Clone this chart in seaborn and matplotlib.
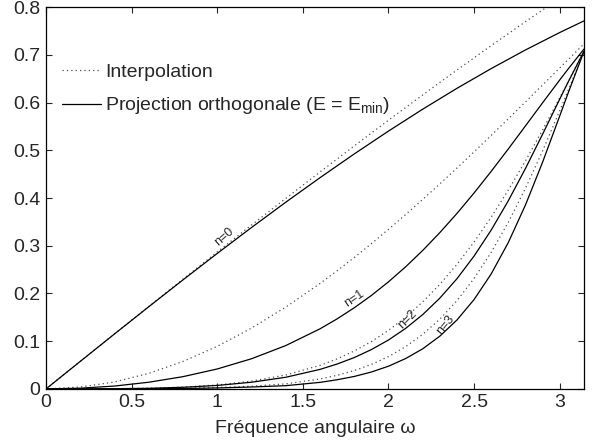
import matplotlib
matplotlib.use("Agg")
import matplotlib.pyplot as plt
import numpy as np
import seaborn as sns

# Values (error kernel vs. angular frequency)
omega = [0, 0.2, 0.4, 0.6, 0.8, 1.0, 1.2, 1.4, 1.6, 1.8, 2.0, 2.2, 2.4, 2.6, 2.8, 3.0, 3.1416]
omega_fine = [0, 0.2, 0.4, 0.6, 0.8, 1.0, 1.2, 1.4, 1.6, 1.7, 1.8, 1.9, 2.0, 2.1, 2.2,
              2.3, 2.4, 2.5, 2.6, 2.7, 2.8, 2.9, 3.0, 3.05, 3.1416]

proj_n0 = [0, 0.0577, 0.1152, 0.1722, 0.2285, 0.2839, 0.3382, 0.3912, 0.4426, 0.4924,
           0.5403, 0.5862, 0.6299, 0.6713, 0.7103, 0.7468, 0.7712]
interp_n0 = [0, 0.0577, 0.1154, 0.1728, 0.2300, 0.2869, 0.3433, 0.3992, 0.4545, 0.5092,
             0.5631, 0.6161, 0.6683, 0.7194, 0.7696, 0.8185, 0.8525]

proj_n1 = [0, 0.0015, 0.0060, 0.0140, 0.0257, 0.0418, 0.0632, 0.0908, 0.1259, 0.1468,
           0.1700, 0.1958, 0.2244, 0.2558, 0.2902, 0.3276, 0.3678, 0.4107, 0.4560, 0.5030,
           0.5512, 0.5996, 0.6474, 0.6708, 0.7122]
interp_n1 = [0, 0.0040, 0.0145, 0.0326, 0.0576, 0.0893, 0.1274, 0.1714, 0.2209, 0.2476,
             0.2754, 0.3044, 0.3344, 0.3653, 0.3971, 0.4297, 0.4630, 0.4969, 0.5313, 0.5662,
             0.6014, 0.6369, 0.6725, 0.6903, 0.7230]
proj_n2 = [0, 0.0000, 0.0004, 0.0013, 0.0034, 0.0073, 0.0140, 0.0244, 0.0409, 0.0521,
           0.0657, 0.0824, 0.1025, 0.1268, 0.1558, 0.1903, 0.2310, 0.2785, 0.3330, 0.3945,
           0.4620, 0.5338, 0.6073, 0.6436, 0.7076]
interp_n2 = [0, 0.0000, 0.0004, 0.0014, 0.0037, 0.0082, 0.0163, 0.0291, 0.0493, 0.0629,
             0.0795, 0.0992, 0.1227, 0.1503, 0.1824, 0.2192, 0.2611, 0.3080, 0.3600, 0.4168,
             0.4779, 0.5426, 0.6100, 0.6444, 0.7080]
proj_n3 = [0, 0.0000, 0.0000, 0.0002, 0.0008, 0.0020, 0.0040, 0.0068, 0.0137, 0.0192,
           0.0261, 0.0354, 0.0476, 0.0636, 0.0841, 0.1106, 0.1445, 0.1874, 0.2411, 0.3070,
           0.3855, 0.4752, 0.5720, 0.6209, 0.7072]
interp_n3 = [0, 0.0000, 0.0001, 0.0003, 0.0011, 0.0028, 0.0056, 0.0106, 0.0208, 0.0285,
             0.0384, 0.0513, 0.0677, 0.0885, 0.1144, 0.1462, 0.1851, 0.2316, 0.2863, 0.3494,
             0.4205, 0.4989, 0.5829, 0.6263, 0.7072]

curve_labels = ["n=0", "n=1", "n=2", "n=3"]
label_x = [1.04, 1.80, 2.11, 2.33]
label_y = [0.318, 0.190, 0.146, 0.134]
label_rot = [41, 34, 45, 51]

x_ticks = [0, 0.5, 1, 1.5, 2, 2.5, 3]
x_ticklabels = ["0", "0.5", "1", "1.5", "2", "2.5", "3"]
y_ticks = [0, 0.1, 0.2, 0.3, 0.4, 0.5, 0.6, 0.7, 0.8]
y_ticklabels = ["0", "0.1", "0.2", "0.3", "0.4", "0.5", "0.6", "0.7", "0.8"]

sns.set_style("ticks", {"xtick.direction": "in", "ytick.direction": "in"})
plt.rcParams["font.family"] = ["Liberation Sans", "DejaVu Sans"]
plt.rcParams["mathtext.default"] = "regular"
plt.rcParams["xtick.top"] = True
plt.rcParams["ytick.right"] = True

fig = plt.figure(figsize=(6, 4.46), dpi=100)
ax = fig.add_axes([0.0767, 0.128, 0.8966, 0.856])

curves = [
    (omega, interp_n0, proj_n0),
    (omega_fine, interp_n1, proj_n1),
    (omega_fine, interp_n2, proj_n2),
    (omega_fine, interp_n3, proj_n3),
]

for i, (xs, yi, yp) in enumerate(curves):
    sns.lineplot(x=xs, y=yi, ax=ax, color="0.3", linewidth=0.9,
                 linestyle=(0, (1, 2.5)), label="Interpolation" if i == 0 else None)
    sns.lineplot(x=xs, y=yp, ax=ax, color="black", linewidth=0.9,
                 label="Projection orthogonale (E = E$_{min}$)" if i == 0 else None)

for i in range(4):
    ax.text(label_x[i], label_y[i], curve_labels[i], rotation=label_rot[i],
            ha="center", va="center", fontsize=9, rotation_mode="anchor")

ax.set_xlim(0, np.pi)
ax.set_ylim(0, 0.8)
ax.set_xticks(x_ticks)
ax.set_xticklabels(x_ticklabels)
ax.set_yticks(y_ticks)
ax.set_yticklabels(y_ticklabels)
ax.tick_params(labelsize=14, length=4, width=0.8, pad=4)
for sp in ax.spines.values():
    sp.set_linewidth(0.9)
    sp.set_color("black")
ax.set_xlabel("Fréquence angulaire ω", fontsize=14, labelpad=6)
ax.set_ylabel("")

ax.legend(loc="upper left", bbox_to_anchor=(0.029, 0.853), frameon=False,
          fontsize=14, handlelength=2.0, handletextpad=0.25, borderpad=0,
          borderaxespad=0, labelspacing=0.75)

fig.savefig("out.png", dpi=100)
